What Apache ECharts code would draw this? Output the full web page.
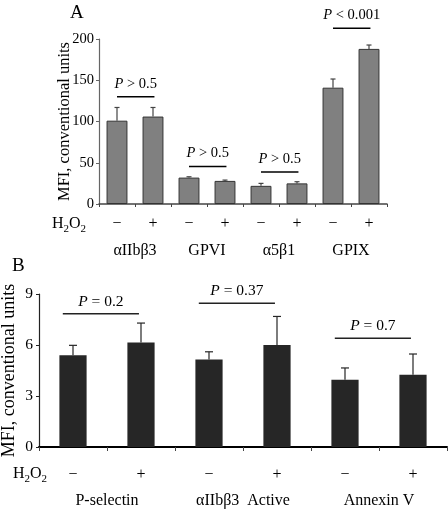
<!DOCTYPE html>
<html><head><meta charset="utf-8">
<script src="https://cdn.jsdelivr.net/npm/echarts@6/dist/echarts.min.js"></script>
<style>html,body{margin:0;padding:0;background:#fff}#c{width:448px;height:511px}</style>
</head><body><div id="c"></div>
<script>
// ---- Data ----
const groupsA = ['αIIbβ3', 'GPVI', 'α5β1', 'GPIX'];
const signs = ['−', '+'];
const meanA = [101, 106, 32, 28, 22, 25, 141, 188];
const errTopA = [117, 117, 33, 29, 25, 27, 151.5, 192.7];
const bracketPairsA = [[0, 1], [2, 3], [4, 5], [6, 7]];
const bracketLevelA = [130, 45.6, 38.8, 213];
const pTextA = ['> 0.5', '> 0.5', '> 0.5', '< 0.001'];
const yTicksA = [0, 50, 100, 150, 200];

const groupsB = ['P-selectin', 'αIIbβ3  Active', 'Annexin V'];
const meanB = [5.4, 6.15, 5.15, 6.0, 3.96, 4.25];
const errTopB = [5.98, 7.29, 5.6, 7.68, 4.65, 5.47];
const bracketPairsB = [[0, 1], [2, 3], [4, 5]];
const bracketLevelB = [7.84, 8.45, 6.39];
const pTextB = ['= 0.2', '= 0.37', '= 0.7'];
const yTicksB = [0, 3, 6, 9];

const yTitle = 'MFI, conventional units';
const FONT = "'Liberation Serif', 'Times New Roman', serif";

const catsA = groupsA.flatMap(g => signs.map(s => g + '|' + s));
const catsB = groupsB.flatMap(g => signs.map(s => g + '|' + s));

function errSeries(xi, yi, mean, top, cap, color) {
  return {
    type: 'custom', xAxisIndex: xi, yAxisIndex: yi, z: 5, clip: false,
    data: mean.map((m, i) => [i, m, top[i]]),
    renderItem(params, api) {
      const b = api.coord([api.value(0), api.value(1)]);
      const t = api.coord([api.value(0), api.value(2)]);
      return { type: 'group', children: [
        { type: 'line', shape: { x1: b[0], y1: b[1], x2: t[0], y2: t[1] }, style: { stroke: color, lineWidth: 1.2 } },
        { type: 'line', shape: { x1: t[0] - cap / 2, y1: t[1], x2: t[0] + cap / 2, y2: t[1] }, style: { stroke: color, lineWidth: 1.2 } }
      ] };
    }
  };
}

function bracketSeries(xi, yi, pairs, levels, texts, offS, offE, fs, gap, color) {
  return {
    type: 'custom', xAxisIndex: xi, yAxisIndex: yi, z: 6, clip: false,
    data: pairs.map((p, i) => [p[0], p[1], levels[i]]),
    renderItem(params, api) {
      const i = params.dataIndex;
      const y = api.value(2);
      const p1 = api.coord([api.value(0), y]);
      const p2 = api.coord([api.value(1), y]);
      const bw = api.size([1, 0])[0];
      const x1 = p1[0] + offS * bw, x2 = p2[0] + offE * bw;
      return { type: 'group', children: [
        { type: 'line', shape: { x1: x1, y1: p1[1], x2: x2, y2: p1[1] }, style: { stroke: color, lineWidth: 1.5 } },
        { type: 'text', x: (x1 + x2) / 2, y: p1[1] - gap,
          style: { text: '{i|P} ' + texts[i], fill: '#000', fontSize: fs, fontFamily: FONT,
                   align: 'center', verticalAlign: 'middle',
                   rich: { i: { fontStyle: 'italic', fontSize: fs, fontFamily: FONT, fill: '#000' } } } }
      ] };
    }
  };
}

const h2o2 = (x, y) => ({
  type: 'text', left: x, top: y,
  style: { text: '{a|H}{s|2}{a|O}{s|2}', fontFamily: FONT,
    rich: { a: { fontSize: 16, fontFamily: FONT, fill: '#000', verticalAlign: 'bottom' },
            s: { fontSize: 11, fontFamily: FONT, fill: '#000', verticalAlign: 'bottom', padding: [0, 0, -3, 0] } } }
});

const chart = echarts.init(document.getElementById('c'), null, { renderer: 'canvas' });
chart.setOption({
  animation: false,
  backgroundColor: '#fff',
  textStyle: { fontFamily: FONT },
  grid: [
    { left: 99, top: 39, width: 288, height: 165, containLabel: false, outerBoundsMode: 'none' },
    { left: 39, top: 294, width: 408, height: 153, containLabel: false, outerBoundsMode: 'none' }
  ],
  xAxis: [
    { type: 'category', gridIndex: 0, data: catsA,
      axisLine: { lineStyle: { color: '#444', width: 1.5 } },
      axisTick: { show: true, length: 3, lineStyle: { color: '#444' } },
      axisLabel: { formatter: v => v.split('|')[1], margin: 12, fontSize: 16, color: '#000', fontFamily: FONT, interval: 0 } },
    { type: 'category', gridIndex: 0, data: groupsA, position: 'bottom',
      axisLine: { show: false }, axisTick: { show: false },
      axisLabel: { margin: 39, fontSize: 16, color: '#000', fontFamily: FONT, interval: 0 } },
    { type: 'category', gridIndex: 1, data: catsB,
      axisLine: { lineStyle: { color: '#000', width: 2 } },
      axisTick: { show: true, length: 4, lineStyle: { color: '#444' } },
      axisLabel: { formatter: v => v.split('|')[1], margin: 20, fontSize: 16, color: '#000', fontFamily: FONT, interval: 0 } },
    { type: 'category', gridIndex: 1, data: groupsB, position: 'bottom',
      axisLine: { show: false }, axisTick: { show: false },
      axisLabel: { margin: 46, fontSize: 16, color: '#000', fontFamily: FONT, interval: 0 } }
  ],
  yAxis: [
    { type: 'value', gridIndex: 0, min: yTicksA[0], max: yTicksA[yTicksA.length - 1], interval: yTicksA[1] - yTicksA[0],
      name: yTitle, nameLocation: 'middle', nameGap: 26, nameMoveOverlap: false,
      nameTextStyle: { fontSize: 16.5, color: '#000', fontFamily: FONT },
      axisLine: { show: true, lineStyle: { color: '#666', width: 1.2 } },
      axisTick: { show: true, length: 3, lineStyle: { color: '#666' } },
      axisLabel: { fontSize: 14.5, color: '#000', margin: 5, fontFamily: FONT },
      splitLine: { show: false } },
    { type: 'value', gridIndex: 1, min: yTicksB[0], max: yTicksB[yTicksB.length - 1], interval: yTicksB[1] - yTicksB[0],
      name: yTitle, nameLocation: 'middle', nameGap: 21, nameMoveOverlap: false,
      nameTextStyle: { fontSize: 18, color: '#000', fontFamily: FONT },
      axisLine: { show: true, lineStyle: { color: '#222', width: 1.2 } },
      axisTick: { show: true, length: 3, lineStyle: { color: '#222' } },
      axisLabel: { fontSize: 15.5, color: '#000', margin: 6, fontFamily: FONT },
      splitLine: { show: false } }
  ],
  series: [
    { type: 'bar', xAxisIndex: 0, yAxisIndex: 0, data: meanA, barWidth: '58%',
      itemStyle: { color: '#808080', borderColor: '#333', borderWidth: 1 } },
    errSeries(0, 0, meanA, errTopA, 5, '#444'),
    bracketSeries(0, 0, bracketPairsA, bracketLevelA, pTextA, 0, 0.04, 14.5, 13, '#000'),
    { type: 'bar', xAxisIndex: 2, yAxisIndex: 1, data: meanB, barWidth: '40%',
      itemStyle: { color: '#262626' } },
    errSeries(2, 1, meanB, errTopB, 8, '#262626'),
    bracketSeries(2, 1, bracketPairsB, bracketLevelB, pTextB, -0.15, -0.03, 15.5, 12, '#222')
  ],
  graphic: [
    { type: 'text', left: 70, top: 4, style: { text: 'A', fontSize: 19, fontFamily: FONT, fill: '#000' } },
    { type: 'text', left: 12, top: 257, style: { text: 'B', fontSize: 19, fontFamily: FONT, fill: '#000' } },
    h2o2(52, 216),
    h2o2(13, 466)
  ]
});
</script></body></html>
